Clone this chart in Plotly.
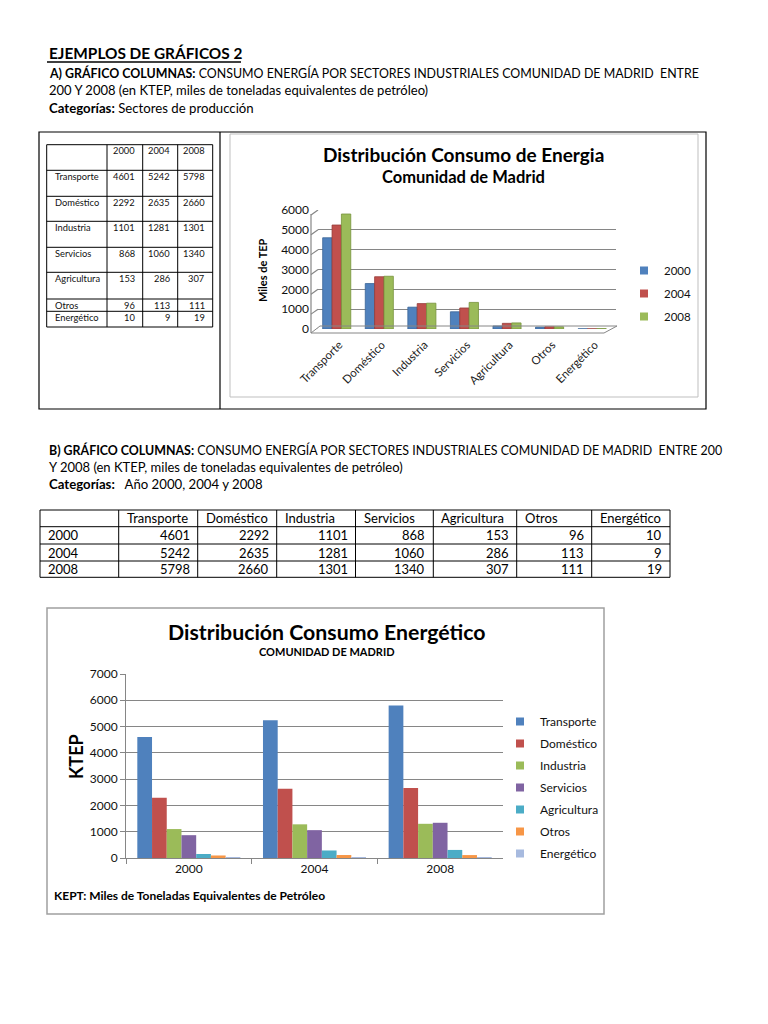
import plotly.graph_objects as go

# page is drawn inside the browser's 8px body margin
OFF = 8
W, H = 768 - OFF, 1024 - OFF
FONT = "Lato"

# ---------------- data ----------------
sectores = ["Transporte", "Doméstico", "Industria", "Servicios", "Agricultura", "Otros", "Energético"]
anios = ["2000", "2004", "2008"]
valores_2000 = [4601, 2292, 1101, 868, 153, 96, 10]
valores_2004 = [5242, 2635, 1281, 1060, 286, 113, 9]
valores_2008 = [5798, 2660, 1301, 1340, 307, 111, 19]
ticks_a = [0, 1000, 2000, 3000, 4000, 5000, 6000]
ticks_b = [0, 1000, 2000, 3000, 4000, 5000, 6000, 7000]

colores_anios = ["#4F81BD", "#C0504D", "#9BBB59"]
bordes_anios = ["#3A6597", "#953B39", "#77933C"]
colores_sectores = ["#4F81BD", "#C0504D", "#9BBB59", "#8064A2", "#4BACC6", "#F79646", "#A7BADF"]

valores_por_anio = [valores_2000, valores_2004, valores_2008]


def X(p):
    return (p - OFF) / W


def Y(p):
    return 1 - (p - OFF) / H


fig = go.Figure()

# ---------------- chart A (by sector) ----------------
bar_w = 0.22
for i, (anio, vals) in enumerate(zip(anios, valores_por_anio)):
    fig.add_trace(go.Bar(
        x=sectores, y=vals, name=anio, xaxis="x", yaxis="y",
        width=bar_w, offset=-0.39 + i * bar_w,
        marker=dict(color=colores_anios[i], line=dict(color=bordes_anios[i], width=0.8)),
        showlegend=False, legendgroup="a" + anio,
    ))
    # legend entry with a small square key
    fig.add_trace(go.Scatter(
        x=[None], y=[None], mode="markers", name=anio, xaxis="x", yaxis="y",
        marker=dict(symbol="square", size=8, color=colores_anios[i]),
        legend="legend", legendgroup="a" + anio, hoverinfo="skip",
    ))

# ---------------- chart B (by year) ----------------
for j, sector in enumerate(sectores):
    fig.add_trace(go.Bar(
        x=anios, y=[v[j] for v in valores_por_anio], name=sector,
        xaxis="x2", yaxis="y2",
        marker=dict(color=colores_sectores[j], line=dict(width=0)),
        showlegend=False, legendgroup="b" + sector,
    ))
    fig.add_trace(go.Scatter(
        x=[None], y=[None], mode="markers", name=sector, xaxis="x2", yaxis="y2",
        marker=dict(symbol="square", size=8, color=colores_sectores[j]),
        legend="legend2", legendgroup="b" + sector, hoverinfo="skip",
    ))

shapes = []
ann = []


def line(x0, y0, x1, y1, color="#000", w=1):
    shapes.append(dict(type="line", xref="paper", yref="paper", x0=X(x0), y0=Y(y0),
                       x1=X(x1), y1=Y(y1), line=dict(color=color, width=w)))


def rect(x0, y0, x1, y1, color="#000", w=1):
    shapes.append(dict(type="rect", xref="paper", yref="paper", x0=X(x0), y0=Y(y0),
                       x1=X(x1), y1=Y(y1), line=dict(color=color, width=w)))


def text(x, y, s, size=13, anchor="left", bold=False, color="#000", angle=0):
    if bold:
        s = "<b>" + s + "</b>"
    ann.append(dict(xref="paper", yref="paper", x=X(x), y=Y(y), text=s, showarrow=False,
                    xanchor=anchor, yanchor="middle", textangle=angle,
                    font=dict(family=FONT, size=size, color=color)))


NB = "\u00a0"
# ---------------- page text ----------------
text(47, 53, "EJEMPLOS DE GRÁFICOS 2", size=15.4, bold=True)
line(47, 62, 241, 62, w=1.3)
text(47, 73, "<b>A) GRÁFICO COLUMNAS:</b> CONSUMO ENERGÍA POR SECTORES INDUSTRIALES COMUNIDAD DE MADRID " + NB + "ENTRE", size=12.4)
text(47, 90, "200 Y 2008 (en KTEP, miles de toneladas equivalentes de petróleo)", size=13)
text(47, 108, "<b>Categorías:</b> Sectores de producción", size=13.2)
text(47, 450, "<b>B) GRÁFICO COLUMNAS:</b> CONSUMO ENERGÍA POR SECTORES INDUSTRIALES COMUNIDAD DE MADRID " + NB + "ENTRE 200", size=12.4)
text(47, 467, "Y 2008 (en KTEP, miles de toneladas equivalentes de petróleo)", size=13)
text(47, 484, "<b>Categorías:</b>" + NB + NB + " Año 2000, 2004 y 2008", size=13.2)

# ---------------- box A ----------------
rect(39, 132, 706, 409, w=1.2)
line(220, 132, 220, 409, w=1.2)
rect(230, 134, 698, 397, color="#BFBFBF", w=1)

# table A
cols_a = [46.7, 107, 142.7, 177.7, 212.7]
rows_a = [144.7, 170.3, 196.3, 221.3, 247.3, 272.3, 299, 311.3, 327]
for cx in cols_a:
    line(cx, rows_a[0], cx, rows_a[-1], w=1)
for ry in rows_a:
    line(cols_a[0], ry, cols_a[-1], ry, w=1)
for c, anio in enumerate(anios):
    text(cols_a[c + 2] - 6, rows_a[0] + 6, anio, size=9.3, anchor="right", color="#111")
for r, sector in enumerate(sectores):
    top = rows_a[r + 1]
    text(cols_a[0] + 6, top + 6.5, sector, size=9.3, color="#111")
    for c, vals in enumerate(valores_por_anio):
        text(cols_a[c + 2] - 6, top + 6.5, str(vals[r]), size=9.3, anchor="right", color="#111")

# chart A texts
text(463, 155, "Distribución Consumo de Energia", size=19, bold=True, anchor="center")
text(463, 177, "Comunidad de Madrid", size=16.5, bold=True, anchor="center")
text(262, 270, "Miles de TEP", size=11, bold=True, anchor="center", angle=-90)

# chart A 3D-ish floor and wall
shapes.append(dict(type="path", xref="paper", yref="paper",
                   path="M {},{} L {},{} L {},{} L {},{} Z".format(
                       X(311), Y(333), X(604), Y(333), X(617), Y(326), X(320), Y(326)),
                   line=dict(color="#868686", width=1), fillcolor="rgba(0,0,0,0)"))
line(311, 214, 311, 333, color="#868686", w=1.2)
for t in ticks_a:
    shapes.append(dict(type="line", xref="paper", yref="y", x0=X(311), x1=X(318),
                       y0=t - 250, y1=t, line=dict(color="#868686", width=1.2)))

# ---------------- table B ----------------
cols_b = [40, 118.7, 197.7, 276.7, 355.5, 433.3, 516.7, 591.7, 670]
rows_b = [510, 526.7, 544, 561, 577.3]
for cx in cols_b:
    line(cx, rows_b[0], cx, rows_b[-1], w=1)
for ry in rows_b:
    line(cols_b[0], ry, cols_b[-1], ry, w=1)
for j, sector in enumerate(sectores):
    text(cols_b[j + 1] + 6, (rows_b[0] + rows_b[1]) / 2, sector, size=13)
for r, (anio, vals) in enumerate(zip(anios, valores_por_anio)):
    cy = (rows_b[r + 1] + rows_b[r + 2]) / 2
    text(cols_b[0] + 6, cy, anio, size=13)
    for j, v in enumerate(vals):
        text(cols_b[j + 2] - 6, cy, str(v), size=13, anchor="right")

# ---------------- chart B ----------------
rect(47, 608, 604, 914, color="#A0A0A0", w=1.5)
text(326.5, 632, "Distribución Consumo Energético", size=21.3, bold=True, anchor="center")
text(326.5, 651, "COMUNIDAD DE MADRID", size=11, bold=True, anchor="center")
text(76, 757, "KTEP", size=18, bold=True, anchor="center", angle=-90)
text(52, 895, "KEPT: Miles de Toneladas Equivalentes de Petróleo", size=12, bold=True)

fig.update_layout(
    template="none",
    width=W, height=H, margin=dict(l=0, r=0, t=0, b=0, pad=0, autoexpand=False),
    paper_bgcolor="white", plot_bgcolor="rgba(0,0,0,0)",
    font=dict(family=FONT, color="#000"),
    barmode="group", bargap=0.18, bargroupgap=0,
    shapes=shapes, annotations=ann,
    xaxis=dict(type="category", domain=[X(318), X(616)], anchor="y", showgrid=False,
               showline=False, ticks="", tickangle=-45,
               tickfont=dict(family=FONT, size=11.5, color="#222"),
               ticklabelstandoff=6, fixedrange=True, automargin=False),
    yaxis=dict(domain=[Y(329), Y(210)], anchor="x", range=[0, 6000], tickvals=ticks_a,
               showgrid=True, gridcolor="#868686", gridwidth=1.3, zeroline=False,
               showline=False, ticks="", tickfont=dict(family=FONT, size=12, color="#111"),
               ticklabelstandoff=8, automargin=False),
    xaxis2=dict(type="category", domain=[X(126), X(503)], anchor="y2", showgrid=False,
                showline=True, linecolor="#868686", ticks="outside", tickson="boundaries",
                ticklen=5, tickcolor="#868686",
                tickfont=dict(family=FONT, size=12, color="#111"), automargin=False),
    yaxis2=dict(domain=[Y(858), Y(674)], anchor="x2", range=[0, 7000], tickvals=ticks_b,
                showgrid=True, gridcolor="#868686", gridwidth=1, zeroline=False,
                showline=True, linecolor="#868686", ticks="outside", ticklen=5,
                tickcolor="#868686", tickfont=dict(family=FONT, size=12, color="#111"),
                automargin=False),
    legend=dict(x=X(624), y=Y(256), xanchor="left", yanchor="top", bgcolor="rgba(0,0,0,0)",
                font=dict(family=FONT, size=11.5, color="#111"), tracegroupgap=4,
                itemclick=False),
    legend2=dict(x=X(500), y=Y(707), xanchor="left", yanchor="top", bgcolor="rgba(0,0,0,0)",
                 font=dict(family=FONT, size=12, color="#111"), tracegroupgap=3,
                 itemclick=False),
)

fig.write_html("out.html")
